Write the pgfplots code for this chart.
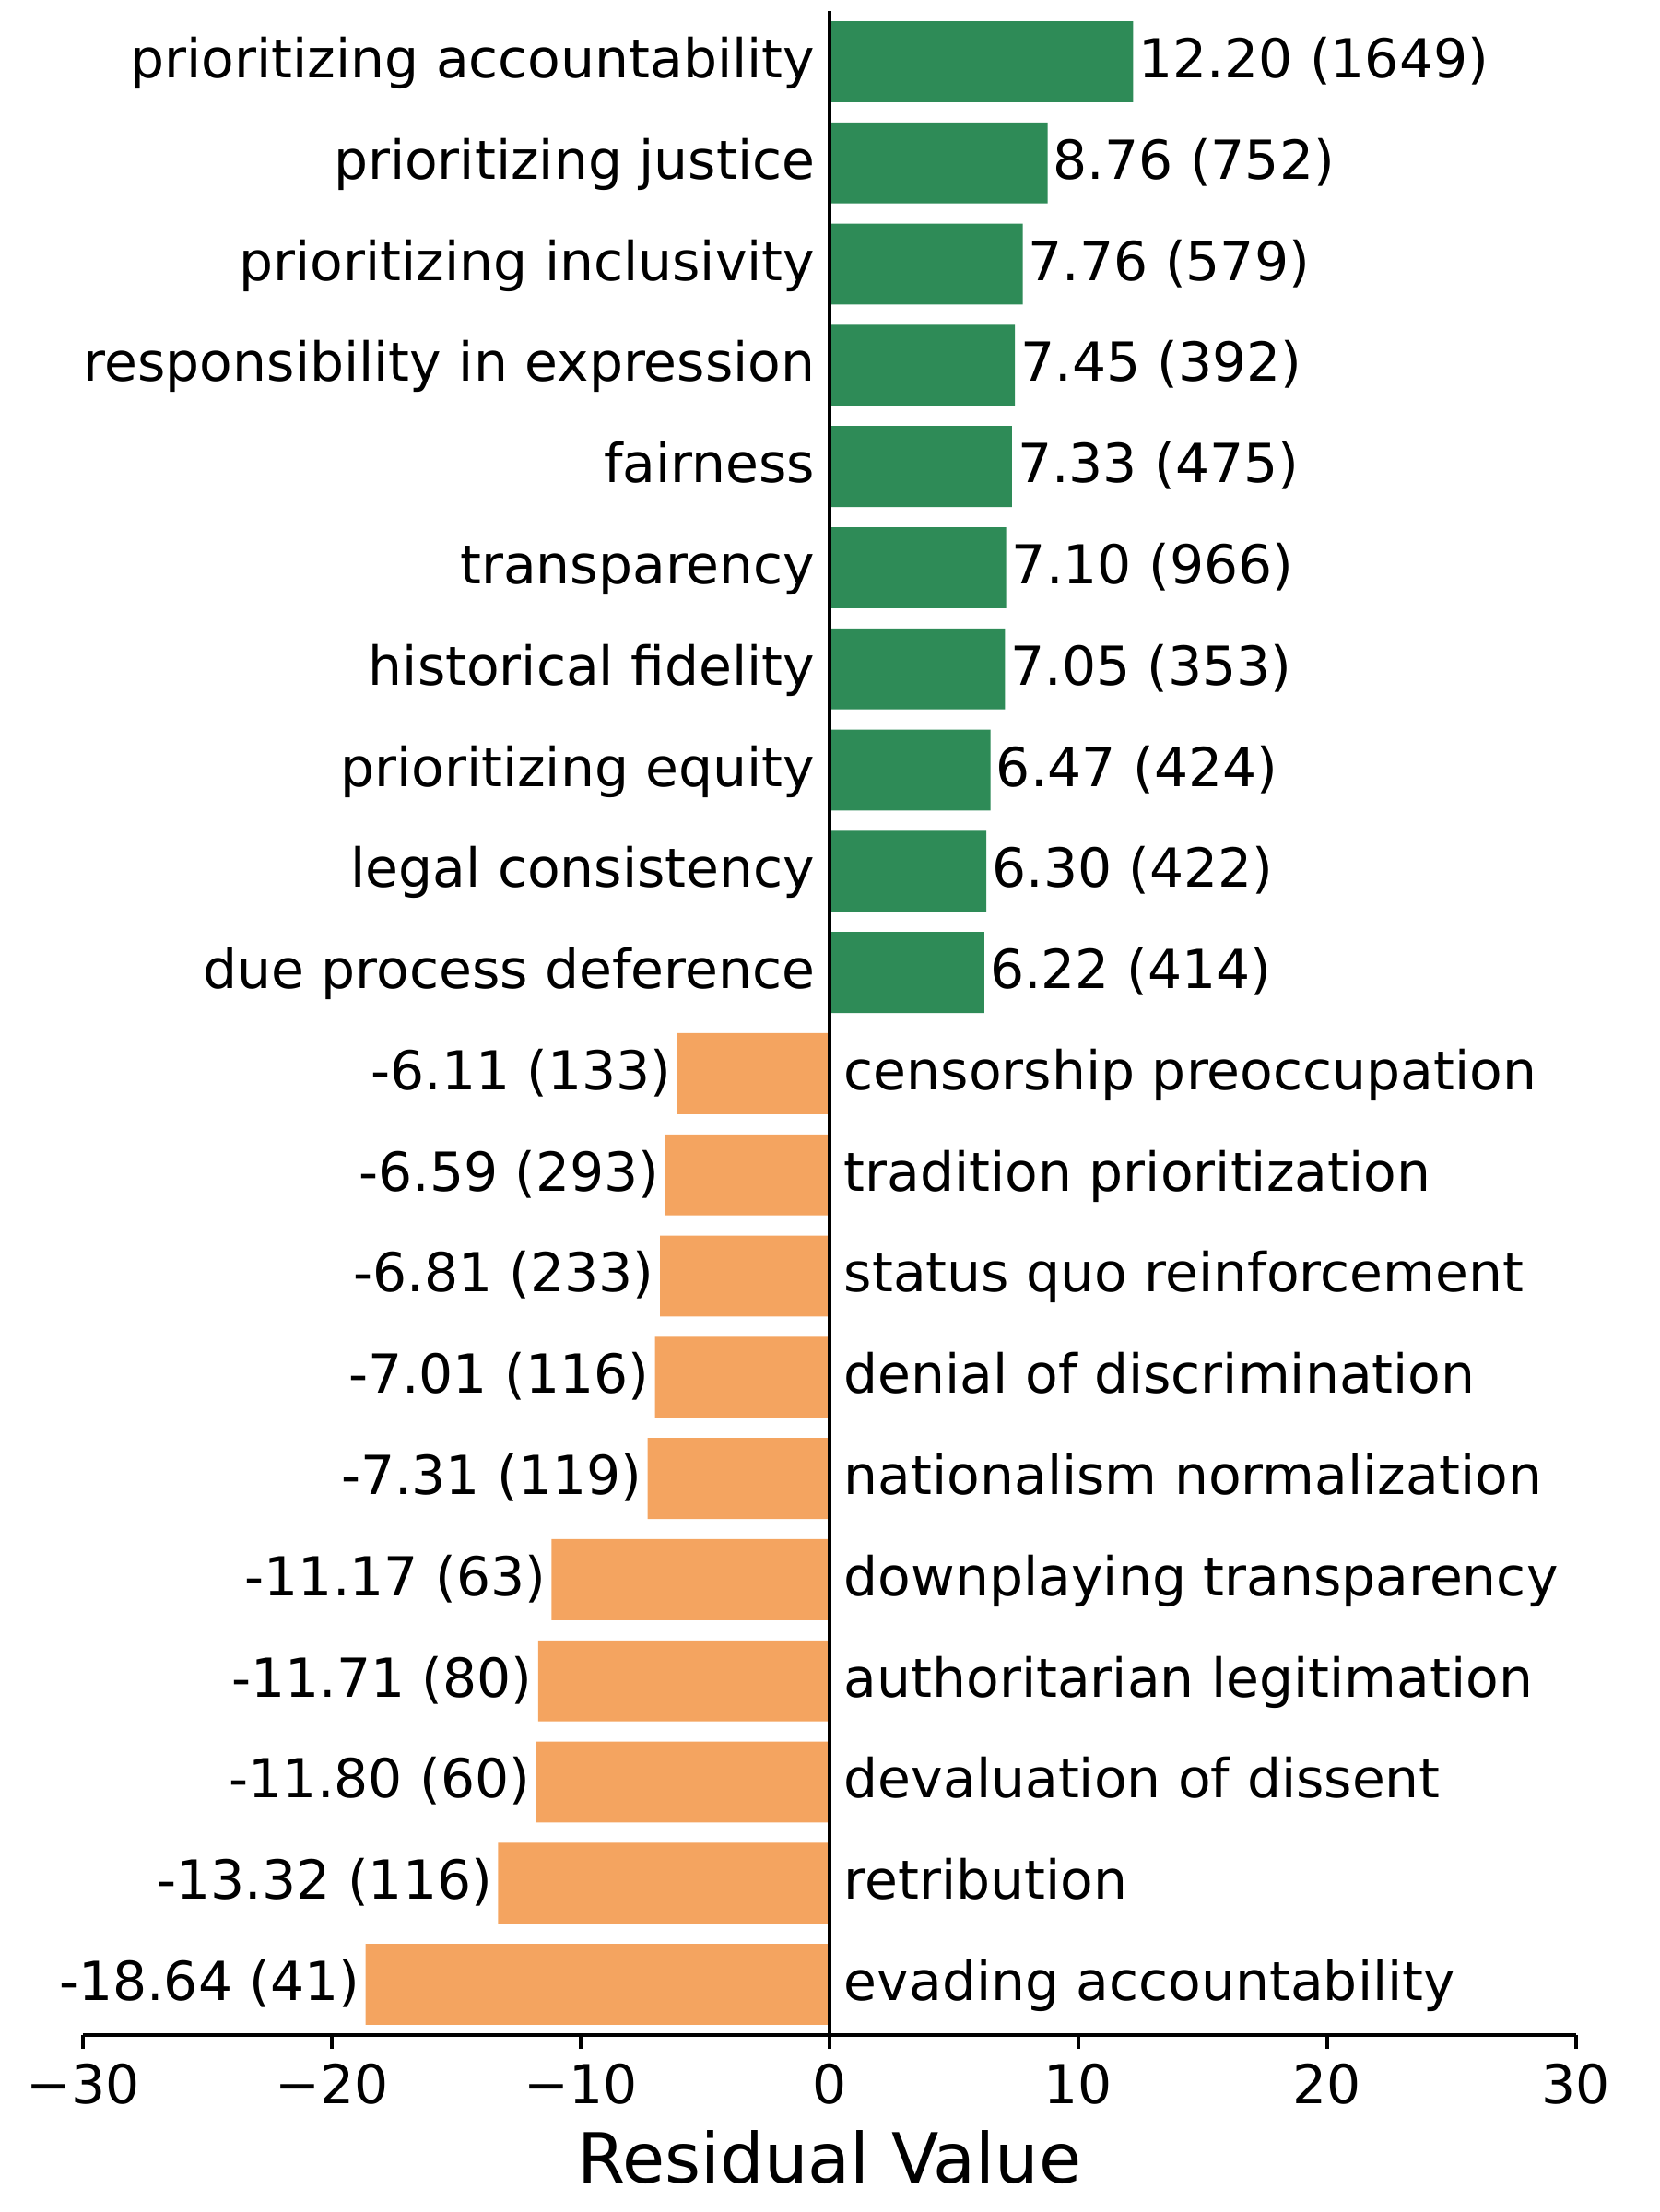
\documentclass[border=0pt]{standalone}
\usepackage{fontspec}
\setmainfont{DejaVu Sans}
\usepackage{pgfplots}
\usepackage{pgfplotstable}
\pgfplotsset{compat=1.18}
\definecolor{sgreen}{RGB}{46,139,87}
\definecolor{sbrown}{RGB}{244,164,96}
\pgfplotstableread[col sep=comma]{
idx,val,lab
0,12.20,12.20 (1649)
1,8.76,8.76 (752)
2,7.76,7.76 (579)
3,7.45,7.45 (392)
4,7.33,7.33 (475)
5,7.10,7.10 (966)
6,7.05,7.05 (353)
7,6.47,6.47 (424)
8,6.30,6.30 (422)
9,6.22,6.22 (414)
}\postable
\pgfplotstableread[col sep=comma]{
idx,val,lab
10,-6.11,-6.11 (133)
11,-6.59,-6.59 (293)
12,-6.81,-6.81 (233)
13,-7.01,-7.01 (116)
14,-7.31,-7.31 (119)
15,-11.17,-11.17 (63)
16,-11.71,-11.71 (80)
17,-11.80,-11.80 (60)
18,-13.32,-13.32 (116)
19,-18.64,-18.64 (41)
}\negtable
\begin{document}
\begin{tikzpicture}
\begin{axis}[
  at={(21.6pt,46.1pt)}, anchor=south west,
  scale only axis, width=388.8pt, height=527pt,
  xbar, bar width=0.8,
  xmin=-30, xmax=30, ymin=-0.5, ymax=19.5, y dir=reverse,
  enlargelimits=false, clip=false, axis on top,
  axis x line*=bottom, axis y line*=middle,
  axis line style={line width=0.8pt, black, -},
  xtick={-30,-20,-10,0,10,20,30},
  xticklabels={−30,−20,−10,0,10,20,30},
  ytick=\empty,
  tick align=outside, major tick length=3.5pt,
  tick style={line width=0.8pt, black},
  xticklabel style={font=\fontsize{14}{16.8}\selectfont, inner sep=0pt, anchor=north, yshift=-3.9pt},
  xlabel={Residual Value},
  every axis x label/.style={at={(axis description cs:0.5,0)}, anchor=center, yshift=-31.9pt, font=\fontsize{18}{21.6}\selectfont},
  point meta=explicit symbolic,
]
\addplot[xbar, bar width=0.8, bar shift=0pt, fill=sgreen, draw=none,
  nodes near coords,
  every node near coord/.style={anchor=west, font=\fontsize{14}{16.8}\selectfont, inner ysep=0pt, inner xsep=1.3pt, text height=10.64pt, text depth=2.24pt, black}]
  table[x=val, y=idx, meta=lab] {\postable};
\addplot[xbar, bar width=0.8, bar shift=0pt, fill=sbrown, draw=none,
  nodes near coords,
  every node near coord/.style={anchor=east, font=\fontsize{14}{16.8}\selectfont, inner ysep=0pt, inner xsep=1.3pt, text height=10.64pt, text depth=2.24pt, black}]
  table[x=val, y=idx, meta=lab] {\negtable};
\begin{scope}[every node/.style={font=\fontsize{14}{16.8}\selectfont, inner sep=0pt, text height=10.64pt, text depth=2.24pt}]
\node[anchor=east, xshift=-3.6pt] at (axis cs:0,0) {prioritizing accountability};
\node[anchor=east, xshift=-3.6pt] at (axis cs:0,1) {prioritizing justice};
\node[anchor=east, xshift=-3.6pt] at (axis cs:0,2) {prioritizing inclusivity};
\node[anchor=east, xshift=-3.6pt] at (axis cs:0,3) {responsibility in expression};
\node[anchor=east, xshift=-3.6pt] at (axis cs:0,4) {fairness};
\node[anchor=east, xshift=-3.6pt] at (axis cs:0,5) {transparency};
\node[anchor=east, xshift=-3.6pt] at (axis cs:0,6) {historical fidelity};
\node[anchor=east, xshift=-3.6pt] at (axis cs:0,7) {prioritizing equity};
\node[anchor=east, xshift=-3.6pt] at (axis cs:0,8) {legal consistency};
\node[anchor=east, xshift=-3.6pt] at (axis cs:0,9) {due process deference};
\node[anchor=west, xshift=3.6pt] at (axis cs:0,10) {censorship preoccupation};
\node[anchor=west, xshift=3.6pt] at (axis cs:0,11) {tradition prioritization};
\node[anchor=west, xshift=3.6pt] at (axis cs:0,12) {status quo reinforcement};
\node[anchor=west, xshift=3.6pt] at (axis cs:0,13) {denial of discrimination};
\node[anchor=west, xshift=3.6pt] at (axis cs:0,14) {nationalism normalization};
\node[anchor=west, xshift=3.6pt] at (axis cs:0,15) {downplaying transparency};
\node[anchor=west, xshift=3.6pt] at (axis cs:0,16) {authoritarian legitimation};
\node[anchor=west, xshift=3.6pt] at (axis cs:0,17) {devaluation of dissent};
\node[anchor=west, xshift=3.6pt] at (axis cs:0,18) {retribution};
\node[anchor=west, xshift=3.6pt] at (axis cs:0,19) {evading accountability};
\end{scope}
\end{axis}
\pgfresetboundingbox
\path (0,0) rectangle (432pt,576pt);
\end{tikzpicture}
\end{document}
